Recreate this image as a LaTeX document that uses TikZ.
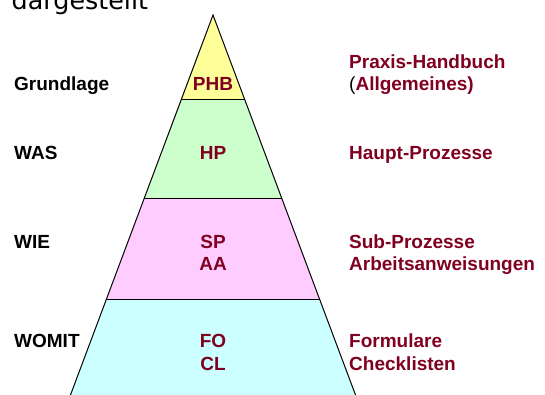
\documentclass[tikz,border=0pt]{standalone}
\usepackage{fontspec}
\setmainfont{Liberation Sans}
\newfontfamily\topfont{DejaVu Sans}
\definecolor{lvlyellow}{HTML}{FFFF99}
\definecolor{lvlgreen}{HTML}{CCFFCC}
\definecolor{lvlpink}{HTML}{FFCCFF}
\definecolor{lvlcyan}{HTML}{CCFFFF}
\definecolor{maroon}{HTML}{800020}
\tikzset{
  band/.style={draw=black, line width=1pt, line join=miter},
  lbl/.style={inner sep=0pt, anchor=base west, font=\fontsize{19}{22.8}\selectfont\bfseries, text=black},
  rlbl/.style={inner sep=0pt, anchor=base west, font=\fontsize{19}{22.8}\selectfont\bfseries, text=maroon},
  clbl/.style={inner sep=0pt, anchor=base, font=\fontsize{19}{22.8}\selectfont\bfseries, text=maroon},
}
\begin{document}
\begin{tikzpicture}[x=1pt, y=-1pt]
\useasboundingbox (0,0) rectangle (545,394);
\clip (0,0) rectangle (545,394);
% top cut-off text
\node[inner sep=0pt, anchor=base west, font=\topfont\fontsize{25.4}{30}\selectfont] (top) at (11.5,9.5) {dargestellt};
% pyramid geometry
\coordinate (A) at (213,15);
\coordinate (L1) at (181.5,99);   \coordinate (R1) at (244.5,99);
\coordinate (L2) at (144.2,198.5); \coordinate (R2) at (281.8,198.5);
\coordinate (L3) at (106.5,299);  \coordinate (R3) at (319.5,299);
\coordinate (L4) at (68.6,400);   \coordinate (R4) at (357.4,400);
\fill[lvlyellow] (A) -- (R1) -- (L1) -- cycle;
\fill[lvlgreen] (L1) -- (R1) -- (R2) -- (L2) -- cycle;
\fill[lvlpink] (L2) -- (R2) -- (R3) -- (L3) -- cycle;
\fill[lvlcyan] (L3) -- (R3) -- (R4) -- (L4) -- cycle;
\draw[band] (L4) -- (A) -- (R4);
\draw[band] (L1) -- (R1);
\draw[band] (L2) -- (R2);
\draw[band] (L3) -- (R3);
% left labels
\node[lbl] (grund) at (14,90.5) {Grundlage};
\node[lbl] (was) at (14,159) {WAS};
\node[lbl] (wie) at (14,248) {WIE};
\node[lbl] (womit) at (14,347.3) {WOMIT};
% center labels
\node[clbl] (phb) at (213,90.5) {PHB};
\node[clbl] (hp) at (213,159) {HP};
\node[clbl] (sp) at (213,248) {SP};
\node[clbl] (aa) at (213,270.8) {AA};
\node[clbl] (fo) at (213,347.3) {FO};
\node[clbl] (cl) at (213,370.1) {CL};
% right labels
\node[rlbl] (praxis) at (349,68) {Praxis-Handbuch};
\node[rlbl] (allg) at (349,90.8) {{\mdseries\color{black}(}Allgemeines)};
\node[rlbl] (haupt) at (349,159) {Haupt-Prozesse};
\node[rlbl] (sub) at (349,248) {Sub-Prozesse};
\node[rlbl] (arb) at (349,270.8) {Arbeitsanweisungen};
\node[rlbl] (form) at (349,347.3) {Formulare};
\node[rlbl] (check) at (349,370.1) {Checklisten};
\end{tikzpicture}
\end{document}
